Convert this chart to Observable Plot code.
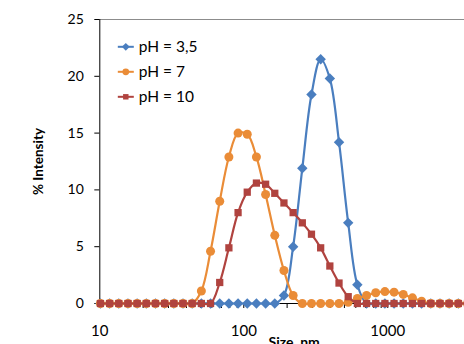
<!DOCTYPE html>
<html>
<head>
<meta charset="utf-8">
<script src="https://cdn.jsdelivr.net/npm/d3@7"></script>
<script src="https://cdn.jsdelivr.net/npm/@observablehq/plot@0.6"></script>
<style>
  html, body { margin: 0; padding: 0; background: white; overflow: hidden; }
  #chart { width: 464px; height: 344px; overflow: hidden; }
</style>
</head>
<body>
<div id="chart"></div>
<script>
// Size bins (nm)
const sizes = [10.1, 11.7, 13.54, 15.69, 18.17, 21.04, 24.36, 28.21, 32.67, 37.84,
  43.82, 50.75, 58.77, 68.06, 78.82, 91.28, 105.7, 122.4, 141.8, 164.2,
  190.1, 220.2, 255, 295.3, 342, 396.1, 458.7, 531.2, 615.1, 712.4,
  825, 955.4, 1106, 1281, 1484, 1718, 1990, 2305, 2669, 3091, 3580];

// % Intensity values
const ph35 = [0,0,0,0,0,0,0,0,0,0,
  0,0,0,0,0,0,0,0,0,0,
  0.7,5.0,11.9,18.4,21.5,19.8,14.2,7.1,1.65,0,
  0,0,0,0,0,0,0,0,0,0,0];
const ph7 = [0,0,0,0,0,0,0,0,0,0,
  0,1.1,4.6,9.0,12.9,15.0,14.9,12.9,9.6,6.0,
  2.9,0.7,0,0,0,0,0,0.1,0.45,0.7,
  0.95,1.05,1.0,0.8,0.5,0.2,0,0,0,0,0];
const ph10 = [0,0,0,0,0,0,0,0,0,0,
  0,0,0,1.85,4.9,8.0,9.8,10.6,10.5,9.7,
  8.85,8.0,7.1,6.1,4.9,3.3,1.8,0.6,0,0,
  0,0,0,0,0,0,0,0,0,0,0];

const seriesNames = ["pH = 3,5", "pH = 7", "pH = 10"];
const seriesValues = [ph35, ph7, ph10];
const seriesColors = ["#4A7EBF", "#EA8C37", "#B0433F"];
const seriesSymbols = ["diamond2", "circle", "square"];
const seriesRadius = [4.7, 4.5, 4.1];

const yTicks = [0, 5, 10, 15, 20, 25];
const xTicks = [10, 100, 1000];
const xMinorTicks = [20,30,40,50,60,70,80,90,200,300,400,500,600,700,800,900,2000,3000];

const rows = [];
seriesNames.forEach((name, i) => {
  sizes.forEach((s, j) => rows.push({series: name, size: s, value: seriesValues[i][j]}));
});

const lineSymbol = { draw(ctx) { ctx.moveTo(-8, 0); ctx.lineTo(8, 0); } };

const marks = [
  Plot.frame({anchor: "top", stroke: "#8c8c8c"}),
  Plot.frame({anchor: "left", stroke: "black"}),
  Plot.frame({anchor: "bottom", stroke: "black"}),
  Plot.axisY({ticks: yTicks, tickSize: 5, tickPadding: 11, fontSize: 14, color: "black", label: null}),
  Plot.axisX({ticks: xTicks, tickSize: 5, tickPadding: 17, fontSize: 15, color: "black",
    tickFormat: d => String(d), label: null}),
  Plot.axisX({ticks: xMinorTicks, tickSize: 5, tickFormat: () => "", color: "black", label: null}),
  Plot.text(["% Intensity"], {frameAnchor: "left", dx: -61, rotate: -90, fontSize: 13.5,
    fontWeight: "bold", textAnchor: "middle", lineAnchor: "middle", fill: "black"}),
  Plot.text(["Size, nm"], {frameAnchor: "bottom", dx: 12, dy: 34, fontSize: 14,
    fontWeight: "bold", textAnchor: "middle", lineAnchor: "top", fill: "black"})
];

seriesNames.forEach((name, i) => {
  const data = rows.filter(r => r.series === name);
  marks.push(Plot.line(data, {x: "size", y: "value", stroke: seriesColors[i], strokeWidth: 2.2, curve: "catmull-rom"}));
  marks.push(Plot.dot(data, {x: "size", y: "value", symbol: seriesSymbols[i], r: seriesRadius[i],
    fill: seriesColors[i], stroke: "none"}));
  // legend entry
  marks.push(Plot.dot([name], {frameAnchor: "top-left", dx: 26, dy: 27.3 + 25 * i, symbol: lineSymbol,
    stroke: seriesColors[i], strokeWidth: 2, fill: "none", r: 4}));
  marks.push(Plot.dot([name], {frameAnchor: "top-left", dx: 26, dy: 27.3 + 25 * i, symbol: seriesSymbols[i],
    r: seriesRadius[i] * 0.75, fill: seriesColors[i], stroke: "none"}));
  marks.push(Plot.text([name], {frameAnchor: "top-left", dx: 39, dy: 27.3 + 25 * i, textAnchor: "start",
    lineAnchor: "middle", fontSize: 15.5, fill: "black"}));
});

const chart = Plot.plot({
  width: 464,
  height: 344,
  marginLeft: 99.3,
  marginTop: 19,
  marginBottom: 41,
  marginRight: 0,
  x: {type: "log", domain: [10, 3412]},
  y: {domain: [0, 25]},
  style: {fontFamily: "Lato, 'Open Sans', sans-serif", background: "white", color: "black"},
  marks
});
document.getElementById("chart").appendChild(chart);
</script>
</body>
</html>
